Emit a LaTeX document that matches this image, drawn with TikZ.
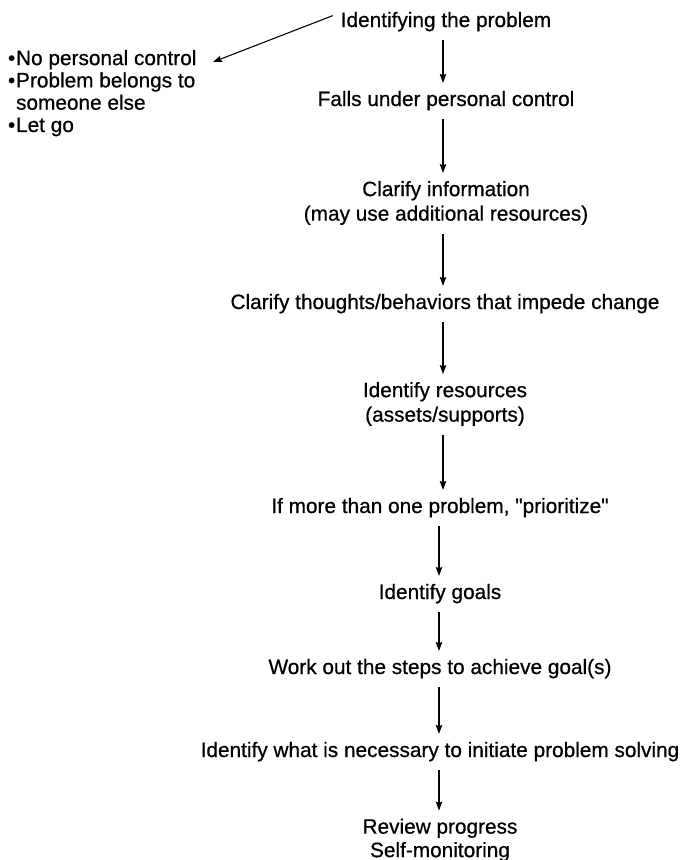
\documentclass[tikz,border=0pt]{standalone}
\usepackage{fontspec}
\setmainfont{Liberation Sans}[Ligatures=TeXOff,BoldFont=Liberation Sans,BoldFeatures={FakeBold=0.6}]
\usetikzlibrary{arrows.meta}
\newcommand{\dotmark}{\textbullet\hspace{0.04em}}
\begin{document}
\begin{tikzpicture}[x=1pt,y=-1pt,
  txt/.style={inner sep=0pt,outer sep=0pt,font=\fontsize{20.8}{24.5}\selectfont\bfseries,align=center},
  tip/.style={-{Stealth[length=9pt,width=6.5pt,inset=1.5pt]}},
  flow/.style={line width=1.1pt,tip,shorten <=9pt,shorten >=8pt},
  side/.style={line width=1.1pt,tip}]
  \useasboundingbox[fill=white] (0,0) rectangle (693,860);

  % main sequence of steps
  \node[txt,anchor=base] (s1) at (446,27) {Identifying the problem};
  \node[txt,anchor=base] (s2) at (446,106) {Falls under personal control};
  \node[txt] (s3) at (446,203) {Clarify information\\(may use additional resources)};
  \node[txt,anchor=base] (s4) at (445,309) {Clarify thoughts/behaviors that impede change};
  \node[txt] (s5) at (445,404) {Identify resources\\(assets/supports)};
  \node[txt,anchor=base] (s6) at (440,513) {If more than one problem, "prioritize"};
  \node[txt,anchor=base] (s7) at (440,599) {Identify goals};
  \node[txt,anchor=base] (s8) at (440,674) {Work out the steps to achieve goal(s)};
  \node[txt,anchor=base] (s9) at (440,757) {Identify what is necessary to initiate problem solving};
  \node[txt,font=\fontsize{20.8}{23.5}\selectfont\bfseries] (s10) at (440,840) {Review progress\\Self-monitoring};

  % side list for problems outside personal control
  \node[txt,anchor=north west,align=left,font=\fontsize{20.8}{22.3}\selectfont\bfseries] (side) at (8,50)
    {\dotmark No personal control\\
     \dotmark Problem belongs to\\
     \hphantom{\dotmark}someone else\\
     \dotmark Let go};
  \coordinate (sidetip) at (213,62);

  % arrow columns
  \coordinate (colA) at (443,0);
  \coordinate (colB) at (439,0);

  \draw[side] ([xshift=-8pt,yshift=6pt]s1.west) -- (sidetip);
  \draw[flow] (s1.south -| colA) -- (s2.north -| colA);
  \draw[flow] (s2.south -| colA) -- (s3.north -| colA);
  \draw[flow] (s3.south -| colA) -- (s4.north -| colA);
  \draw[flow] (s4.south -| colA) -- (s5.north -| colA);
  \draw[flow] (s5.south -| colA) -- (s6.north -| colA);
  \draw[flow] (s6.south -| colB) -- (s7.north -| colB);
  \draw[flow] (s7.south -| colB) -- (s8.north -| colB);
  \draw[flow] (s8.south -| colB) -- (s9.north -| colB);
  \draw[flow] (s9.south -| colB) -- (s10.north -| colB);
\end{tikzpicture}
\end{document}
